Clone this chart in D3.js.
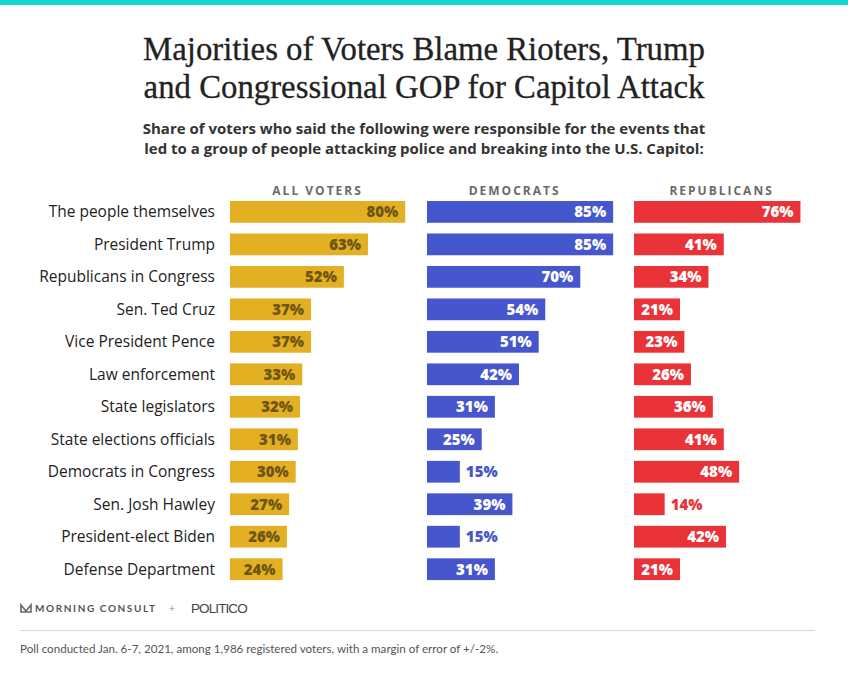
<!DOCTYPE html>
<html>
<head>
<meta charset="utf-8">
<script src="https://cdn.jsdelivr.net/npm/d3@7"></script>
<style>
  body { margin: 0; background: #fff; }
  svg { display: block; }
</style>
</head>
<body>
<div id="chart"></div>
<script>
// data
const categories = [
  "The people themselves",
  "President Trump",
  "Republicans in Congress",
  "Sen. Ted Cruz",
  "Vice President Pence",
  "Law enforcement",
  "State legislators",
  "State elections officials",
  "Democrats in Congress",
  "Sen. Josh Hawley",
  "President-elect Biden",
  "Defense Department"
];
const allVoters = [80, 63, 52, 37, 37, 33, 32, 31, 30, 27, 26, 24];
const democrats = [85, 85, 70, 54, 51, 42, 31, 25, 15, 39, 15, 31];
const republicans = [76, 41, 34, 21, 23, 26, 36, 41, 48, 14, 42, 21];
const groupNames = ["ALL VOTERS", "DEMOCRATS", "REPUBLICANS"];

const titleLines = [
  "Majorities of Voters Blame Rioters, Trump",
  "and Congressional GOP for Capitol Attack"
];
const subtitleLines = [
  "Share of voters who said the following were responsible for the events that",
  "led to a group of people attacking police and breaking into the U.S. Capitol:"
];
const footnote = "Poll conducted Jan. 6-7, 2021, among 1,986 registered voters, with a margin of error of +/-2%.";

const W = 848, H = 678;
const sans = "'Open Sans', 'Noto Sans', sans-serif";

const svg = d3.select("#chart")
  .append("svg")
  .attr("width", W)
  .attr("height", H);

svg.append("rect")
  .attr("width", W).attr("height", H)
  .attr("fill", "#fff");

// teal strip on top
svg.append("rect")
  .attr("width", W).attr("height", 5)
  .attr("fill", "#17d6cf");

// title
svg.append("g")
  .selectAll("text")
  .data(titleLines)
  .enter()
  .append("text")
    .attr("x", W / 2)
    .attr("y", (d, i) => 60 + i * 38)
    .attr("text-anchor", "middle")
    .attr("font-family", "'Liberation Serif', serif")
    .attr("font-size", 32.8)
    .attr("fill", "#222")
    .attr("stroke", "#222")
    .attr("stroke-width", 0.3)
    .text(d => d);

svg.append("g")
  .selectAll("text")
  .data(subtitleLines)
  .enter()
  .append("text")
    .attr("x", W / 2)
    .attr("y", (d, i) => 134 + i * 20)
    .attr("text-anchor", "middle")
    .attr("font-family", sans)
    .attr("font-weight", "bold")
    .attr("font-size", 15)
    .attr("fill", "#333")
    .text(d => d);

// scales
const y = d3.scaleBand()
  .domain(categories)
  .range([190.3, 590.8])
  .padding(0.33);

const x = d3.scaleLinear()
  .domain([0, 100])
  .range([0, 219]);

const groups = [
  { name: groupNames[0], values: allVoters, x0: 230, color: "#e3b024", text: "#6e5512" },
  { name: groupNames[1], values: democrats, x0: 427, color: "#4656cc", text: "#fff" },
  { name: groupNames[2], values: republicans, x0: 634, color: "#e93338", text: "#fff" }
];

// category labels
svg.append("g")
  .selectAll("text")
  .data(categories)
  .enter()
  .append("text")
    .attr("x", 215)
    .attr("y", d => y(d) + y.bandwidth() / 2)
    .attr("dy", "0.35em")
    .attr("text-anchor", "end")
    .attr("font-family", sans)
    .attr("font-size", 15.5)
    .attr("fill", "#222")
    .text(d => d);

groups.forEach(g => {
  const col = svg.append("g")
    .attr("transform", `translate(${g.x0},0)`);

  col.append("text")
    .attr("x", x(40))
    .attr("y", 195)
    .attr("text-anchor", "middle")
    .attr("font-family", sans)
    .attr("font-weight", "bold")
    .attr("font-size", 12)
    .attr("letter-spacing", 2)
    .attr("fill", "#6a6a6a")
    .text(g.name);

  const rows = categories.map((c, i) => ({ cat: c, value: g.values[i] }));

  col.selectAll("rect")
    .data(rows)
    .enter()
    .append("rect")
      .attr("x", 0)
      .attr("y", d => y(d.cat))
      .attr("width", d => x(d.value))
      .attr("height", y.bandwidth())
      .attr("fill", g.color);

  // small bars get the label outside
  col.selectAll(".val")
    .data(rows)
    .enter()
    .append("text")
      .attr("class", "val")
      .attr("x", d => d.value < 20 ? x(d.value) + 6 : x(d.value) - 7)
      .attr("y", d => y(d.cat) + y.bandwidth() / 2)
      .attr("dy", "0.36em")
      .attr("text-anchor", d => d.value < 20 ? "start" : "end")
      .attr("font-family", sans)
      .attr("font-weight", 800)
      .attr("font-size", 15)
      .attr("fill", d => d.value < 20 ? g.color : g.text)
      .text(d => d.value + "%");
});

// logos
const logo = svg.append("g");
logo.append("path")
  .attr("d", "M21,605 L26,611 L31,605 L31,612 L21,612 Z")
  .attr("fill", "none")
  .attr("stroke", "#666")
  .attr("stroke-width", 1.6);
logo.append("text")
  .attr("x", 35)
  .attr("y", 612)
  .attr("font-family", "Lato, sans-serif")
  .attr("font-weight", "bold")
  .attr("font-size", 10)
  .attr("letter-spacing", 1.6)
  .attr("fill", "#555")
  .text("MORNING CONSULT");
logo.append("text")
  .attr("x", 169)
  .attr("y", 612)
  .attr("font-family", sans)
  .attr("font-size", 10)
  .attr("fill", "#888")
  .text("+");
logo.append("text")
  .attr("x", 191)
  .attr("y", 613)
  .attr("font-family", "'Liberation Sans', sans-serif")
  .attr("font-size", 13.5)
  .attr("letter-spacing", -0.9)
  .attr("fill", "#444")
  .text("POLITICO");

svg.append("line")
  .attr("x1", 20).attr("x2", 815)
  .attr("y1", 630.5).attr("y2", 630.5)
  .attr("stroke", "#d6d6d6")
  .attr("stroke-width", 1);

svg.append("text")
  .attr("x", 20)
  .attr("y", 653)
  .attr("font-family", "Lato, sans-serif")
  .attr("font-size", 11.6)
  .attr("fill", "#555")
  .text(footnote);
</script>
</body>
</html>
